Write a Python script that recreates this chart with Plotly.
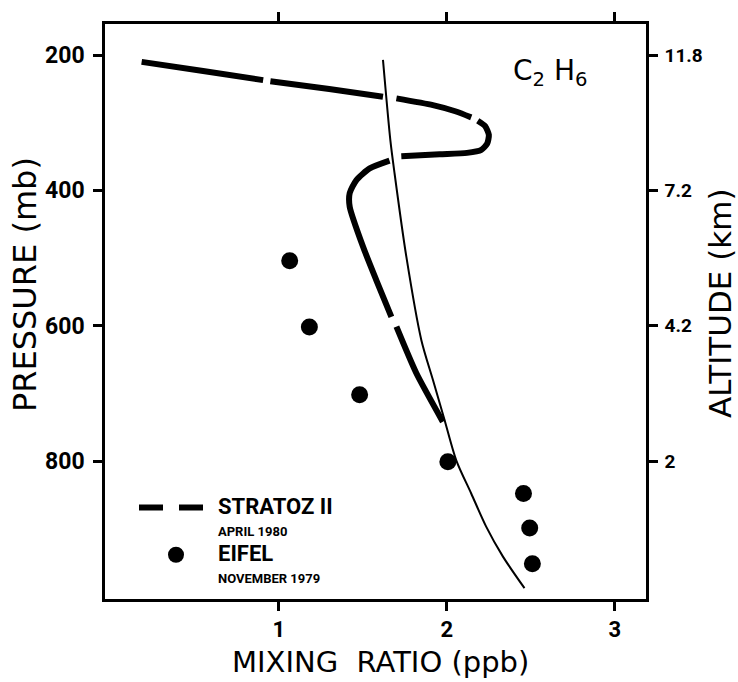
import plotly.graph_objects as go

# ---- data ----
# STRATOZ II profile (mixing ratio ppb, pressure mb); None marks the gaps of the dashed curve
stratoz_x = [0.184, 0.55, 0.907, None,
             0.95, 1.30, 1.62, None,
             1.70, 1.917, 2.05, 2.145, None,
             2.184, 2.228, 2.25, 2.24, 2.205, 2.12, 1.957, 1.729, None,
             1.659, 1.541, 1.462, 1.422, 1.422, 1.501, 1.58, 1.67, None,
             1.70, 1.818, 1.976]
stratoz_p = [210, 223.5, 237, None,
             238.5, 250, 261.6, None,
             264, 274, 283, 292, None,
             297, 305, 318, 331, 340, 344.5, 346.5, 349.5, None,
             356, 367.5, 384.7, 404, 424, 483, 532.5, 587, None,
             601.5, 670, 742]

# thin solid profile
model_x = [1.62, 1.664, 1.689, 1.759, 1.848, 1.917, 1.986, 2.056, 2.145, 2.234, 2.333, 2.462]
model_p = [207, 326, 375, 498, 621, 680, 739, 799, 848, 897, 941, 988]

# EIFEL, November 1979
eifel_x = [1.065, 1.182, 1.481, 2.006, 2.456, 2.493, 2.509]
eifel_p = [504, 602, 702, 801, 848, 899, 952]

x_ticks = [1, 2, 3]
p_ticks = [200, 400, 600, 800]
alt_labels = ["11.8", "7.2", "4.2", "2"]

TITLE_FONT = "DejaVu Sans, sans-serif"
TICK_FONT = "Roboto, Liberation Sans, sans-serif"

fig = go.Figure()

fig.add_trace(go.Scatter(
    x=stratoz_x, y=stratoz_p, mode="lines", showlegend=False,
    line=dict(color="black", width=6, shape="spline", smoothing=0.6),
    connectgaps=False, hoverinfo="skip"))

fig.add_trace(go.Scatter(
    x=model_x, y=model_p, mode="lines", showlegend=False,
    line=dict(color="black", width=2, shape="spline", smoothing=0.8),
    hoverinfo="skip"))

fig.add_trace(go.Scatter(
    x=eifel_x, y=eifel_p, mode="markers", showlegend=False,
    marker=dict(color="black", size=17), hoverinfo="skip"))

# legend entries
fig.add_trace(go.Scatter(
    x=[None], y=[None], mode="lines",
    name="<span style='font-size:22px'>STRATOZ II</span><br>"
         "<span style='font-size:13px'>APRIL 1980</span>",
    line=dict(color="black", width=6, dash="24px,16px")))
fig.add_trace(go.Scatter(
    x=[None], y=[None], mode="markers",
    name="<span style='font-size:22px'>EIFEL</span><br>"
         "<span style='font-size:13px'>NOVEMBER 1979</span>",
    marker=dict(color="black", size=17)))

# right axis carrier (invisible)
fig.add_trace(go.Scatter(
    x=[None], y=[None], yaxis="y2", showlegend=False, hoverinfo="skip"))

axis_common = dict(showgrid=False, zeroline=False, showline=True, linecolor="black",
                   linewidth=2.5, ticks="outside", ticklen=9, tickwidth=2.5,
                   tickcolor="black")

fig.update_layout(
    width=738, height=682,
    margin=dict(l=105, r=92, t=24, b=83),
    paper_bgcolor="white", plot_bgcolor="white",
    font=dict(family=TITLE_FONT, color="black"),
    xaxis=dict(range=[-0.034, 3.185], tickvals=x_ticks, mirror="ticks",
               tickfont=dict(size=22, family=TICK_FONT, weight="bold"),
               **axis_common),
    yaxis=dict(range=[1004, 154], tickvals=p_ticks,
               tickfont=dict(size=23, family=TICK_FONT, weight="bold"),
               ticklabelstandoff=4, **axis_common),
    yaxis2=dict(range=[1004, 154], tickvals=p_ticks, ticktext=alt_labels,
                overlaying="y", side="right", anchor="x",
                tickfont=dict(size=19, family=TICK_FONT, weight="bold"),
                ticklabelstandoff=3, **axis_common),
    legend=dict(x=(134 - 105) / 541, y=1 - (490 - 24) / 575, xanchor="left", yanchor="top",
                bgcolor="rgba(0,0,0,0)",
                font=dict(size=17, family=TICK_FONT, weight="bold"),
                valign="top", itemwidth=74, tracegroupgap=0),
    annotations=[
        dict(text="C<sub>2</sub> H<sub>6</sub>", x=2.616, y=225, xref="x", yref="y",
             xanchor="center", yanchor="middle",
             showarrow=False, font=dict(size=28, family=TITLE_FONT)),
        dict(text="MIXING  RATIO (ppb)", x=(380 - 105) / 541, y=-(662 - 599) / 575,
             xref="paper", yref="paper", xanchor="center", yanchor="middle",
             showarrow=False, font=dict(size=29, family=TITLE_FONT)),
        dict(text="PRESSURE (mb)", x=(25 - 105) / 541, y=1 - (285 - 24) / 575,
             xref="paper", yref="paper", xanchor="center", yanchor="middle",
             showarrow=False, textangle=-90,
             font=dict(size=32, family=TITLE_FONT)),
        dict(text="ALTITUDE (km)", x=(720 - 105) / 541, y=1 - (303 - 24) / 575,
             xref="paper", yref="paper", xanchor="center", yanchor="middle",
             showarrow=False, textangle=-90,
             font=dict(size=31, family=TITLE_FONT)),
    ],
)

fig.write_html("out.html")
